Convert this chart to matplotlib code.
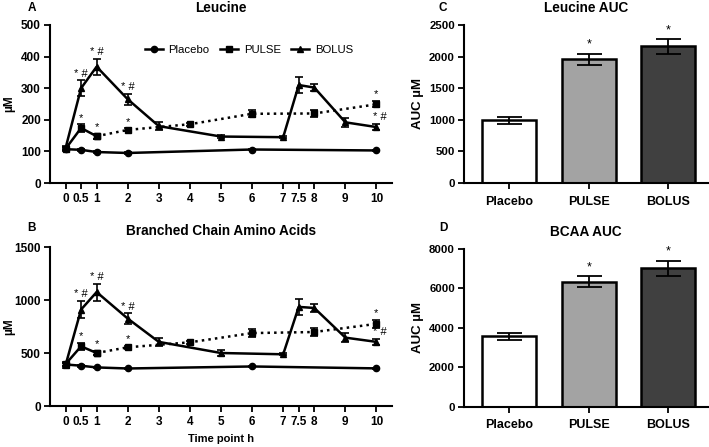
import matplotlib
matplotlib.use("Agg")
import matplotlib.pyplot as plt
from matplotlib.lines import Line2D
import numpy as np

plt.rcParams['font.family'] = ['Liberation Sans', 'DejaVu Sans']

# time course data
placebo_t = [0, 0.5, 1, 2, 6, 10]
pulse_t = [0, 0.5, 1, 2, 4, 6, 8, 10]
bolus_t = [0, 0.5, 1, 2, 3, 5, 7, 7.5, 8, 9, 10]

leu_placebo = [107, 105, 98, 95, 106, 103]
leu_placebo_err = [4, 3, 3, 3, 3, 3]
leu_pulse = [108, 174, 148, 168, 186, 219, 220, 249]
leu_pulse_err = [5, 12, 8, 5, 5, 11, 10, 10]
leu_bolus = [110, 300, 368, 265, 180, 147, 145, 310, 302, 192, 177]
leu_bolus_err = [8, 25, 25, 18, 12, 4, 4, 25, 12, 15, 10]

bcaa_placebo = [392, 380, 364, 354, 373, 355]
bcaa_placebo_err = [12, 8, 8, 8, 8, 8]
bcaa_pulse = [395, 563, 500, 554, 601, 688, 698, 775]
bcaa_pulse_err = [15, 35, 20, 15, 12, 35, 35, 35]
bcaa_bolus = [385, 910, 1075, 825, 605, 500, 488, 935, 925, 645, 605]
bcaa_bolus_err = [30, 80, 80, 50, 35, 25, 10, 75, 40, 40, 30]

xticks = [0, 0.5, 1, 2, 3, 4, 5, 6, 7, 7.5, 8, 9, 10]
xticklabels = ['0', '0.5', '1', '2', '3', '4', '5', '6', '7', '7.5', '8', '9', '10']

# significance marks (time, label)
pulse_marks = [(0.5, '*'), (1, '*'), (2, '*'), (10, '*')]
bolus_marks = [(0.5, '* #'), (1, '* #'), (2, '* #'), (10, '* #')]

# AUC data
groups = ['Placebo', 'PULSE', 'BOLUS']
leu_auc = [990, 1958, 2160]
leu_auc_err = [55, 85, 115]
bcaa_auc = [3575, 6340, 7030]
bcaa_auc_err = [180, 270, 380]
bar_colors = ['white', '#a3a3a3', '#404040']

fig = plt.figure(figsize=(7.09, 4.47), dpi=100)


def style_axis(ax, size=8.5):
    for s in ['top', 'right']:
        ax.spines[s].set_visible(False)
    for s in ['left', 'bottom']:
        ax.spines[s].set_linewidth(1.5)
    ax.tick_params(width=1.3, length=4, labelsize=size)
    for lab in ax.get_xticklabels() + ax.get_yticklabels():
        lab.set_fontweight('bold')


def time_panel(ax, plac, plac_e, pul, pul_e, bol, bol_e, ymax, ystep, title, off):
    kw = dict(color='black', lw=1.8, capsize=3, elinewidth=1.2, capthick=1.2)
    ax.errorbar(placebo_t, plac, yerr=plac_e, marker='o', ms=4.5, **kw)
    ax.errorbar(pulse_t[:3], pul[:3], yerr=pul_e[:3], marker='s', ms=5, **kw)
    ax.errorbar(pulse_t[2:], pul[2:], yerr=pul_e[2:], marker='s', ms=5, ls=':', **kw)
    ax.errorbar(bolus_t, bol, yerr=bol_e, marker='^', ms=4.5, **kw)
    for t, lab in pulse_marks:
        i = pulse_t.index(t)
        ax.text(t, pul[i] + pul_e[i] + off, lab, ha='center', va='bottom', fontsize=8)
    for t, lab in bolus_marks:
        i = bolus_t.index(t)
        ax.text(t + (0.1 if t == 10 else 0), bol[i] + bol_e[i] + off, lab,
                ha='center', va='bottom', fontsize=8)
    ax.set_xlim(-0.5, 10.5)
    ax.set_ylim(0, ymax)
    ax.set_yticks(np.arange(0, ymax + 1, ystep))
    ax.set_xticks(xticks)
    ax.set_xticklabels(xticklabels)
    ax.set_ylabel('µM', fontsize=8.5, fontweight='bold')
    ax.yaxis.set_label_coords(-0.103, 0.5)
    ax.set_title(title, fontsize=9.8, fontweight='bold', pad=9)
    style_axis(ax)
    ax.tick_params(axis='y', pad=2.5)


def bar_panel(ax, vals, errs, ymax, ystep, title):
    x = np.arange(len(groups))
    ax.bar(x, vals, width=0.68, color=bar_colors, edgecolor='black', linewidth=1.8)
    ax.errorbar(x, vals, yerr=errs, fmt='none', ecolor='black', capsize=9, elinewidth=1.3, capthick=1.3)
    for i in range(1, 3):
        ax.text(x[i], vals[i] + errs[i] + ymax * 0.02, '*', ha='center', va='bottom', fontsize=9)
    ax.set_xlim(-0.57, 2.5)
    ax.set_ylim(0, ymax)
    ax.set_yticks(np.arange(0, ymax + 1, ystep))
    ax.set_xticks(x)
    ax.set_xticklabels(groups)
    ax.set_ylabel('AUC µM', fontsize=9.5, fontweight='bold')
    ax.yaxis.set_label_coords(-0.165, 0.5)
    ax.set_title(title, fontsize=9.8, fontweight='bold', pad=9)
    style_axis(ax)
    ax.tick_params(axis='y', labelsize=8.2, pad=2.5)
    ax.tick_params(axis='x', labelsize=9, pad=5)
    for lab in ax.get_xticklabels():
        lab.set_fontweight('bold')


axA = fig.add_axes([0.0705, 0.5906, 0.4824, 0.3535])
axB = fig.add_axes([0.0705, 0.0917, 0.4824, 0.3557])
axC = fig.add_axes([0.6544, 0.5906, 0.344, 0.3535])
axD = fig.add_axes([0.6544, 0.0895, 0.344, 0.3535])

time_panel(axA, leu_placebo, leu_placebo_err, leu_pulse, leu_pulse_err, leu_bolus, leu_bolus_err,
           500, 100, 'Leucine', 5)
time_panel(axB, bcaa_placebo, bcaa_placebo_err, bcaa_pulse, bcaa_pulse_err, bcaa_bolus, bcaa_bolus_err,
           1500, 500, 'Branched Chain Amino Acids', 15)
axB.set_xlabel('Time point h', fontsize=8, fontweight='bold', labelpad=4)

handles = [Line2D([], [], color='black', lw=1.8, marker=m, ms=ms)
           for m, ms in [('o', 4.5), ('s', 5), ('^', 4.5)]]
axA.legend(handles, ['Placebo', 'PULSE', 'BOLUS'], loc='center right', bbox_to_anchor=(0.9, 0.84),
           ncol=3, frameon=False, fontsize=8.2, handlelength=1.6, columnspacing=0.9, handletextpad=0.5,
           borderaxespad=0)

bar_panel(axC, leu_auc, leu_auc_err, 2500, 500, 'Leucine AUC')
bar_panel(axD, bcaa_auc, bcaa_auc_err, 8000, 2000, 'BCAA AUC')

for letter, x, y in [('A', 0.045, 0.982), ('B', 0.045, 0.49), ('C', 0.625, 0.982), ('D', 0.625, 0.49)]:
    fig.text(x, y, letter, fontsize=8.5, fontweight='bold', ha='center', va='center')

fig.savefig('out.png', dpi=100)
